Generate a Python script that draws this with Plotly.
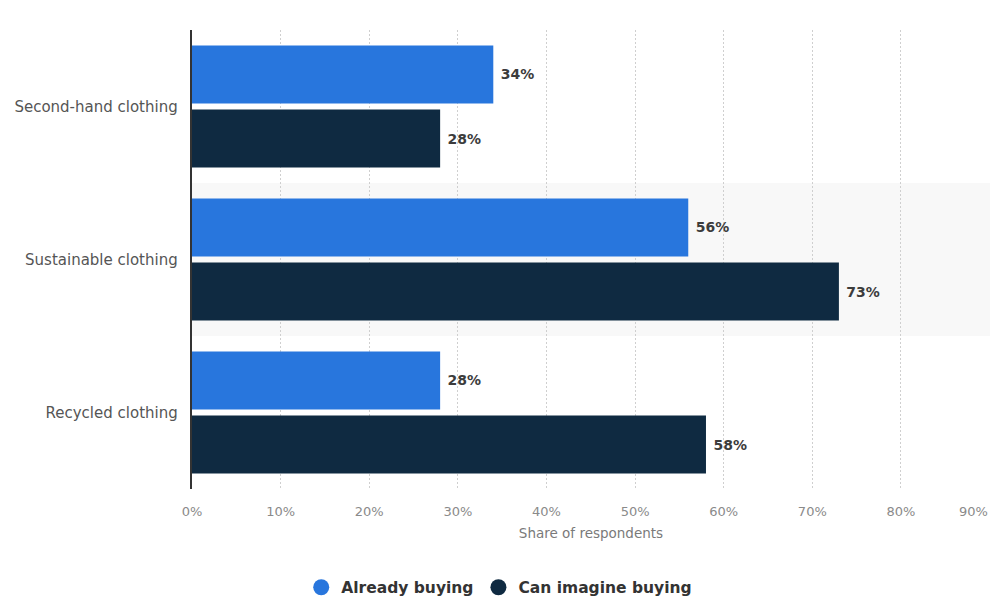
import plotly.graph_objects as go

categories = ["Second-hand clothing", "Sustainable clothing", "Recycled clothing"]
already_buying = [34, 56, 28]
can_imagine = [28, 73, 58]
tick_vals = [0, 10, 20, 30, 40, 50, 60, 70, 80, 90]
tick_text = [f"{v}%" for v in tick_vals]

BLUE = "#2876dd"
NAVY = "#0f2a41"
FONT = "DejaVu Sans"
TICKFONT = dict(family=FONT, size=13, color="#8a8a8a")

fig = go.Figure()
for name, vals, col in [("Already buying", already_buying, BLUE),
                        ("Can imagine buying", can_imagine, NAVY)]:
    fig.add_trace(go.Bar(
        y=categories, x=vals, orientation="h", name=name,
        marker=dict(color=col, line=dict(width=0)),
        text=[f"{v}%" for v in vals], textposition="outside",
        texttemplate="\u00a0<b>%{text}</b>",
        textfont=dict(family=FONT, size=14, color="#3c3c3c"),
        cliponaxis=False, showlegend=False, hoverinfo="skip",
    ))
    fig.add_trace(go.Scatter(
        x=[None], y=[None], mode="markers", name=name,
        marker=dict(symbol="circle", size=18, color=col),
    ))

# shaded middle band
fig.add_shape(type="rect", xref="paper", yref="y", x0=0, x1=1,
              y0=0.5, y1=1.5, fillcolor="#f8f8f8", line=dict(width=0), layer="below")

# last tick label drawn right-aligned so it stays inside the page
axis_labels = tick_text[:-1] + [""]
fig.add_annotation(x=tick_vals[-1], xref="x", y=0, yref="paper", text=tick_text[-1],
                   showarrow=False, xanchor="right", yanchor="middle", yshift=-22,
                   font=TICKFONT)

fig.update_layout(
    width=992, height=589,
    margin=dict(l=184, r=10, t=22, b=108, autoexpand=False),
    plot_bgcolor="white", paper_bgcolor="white",
    barmode="group", bargap=0.163, bargroupgap=0.094,
    font=dict(family=FONT),
    legend=dict(orientation="h", x=0.385, xanchor="center", y=-0.215, yanchor="middle",
                font=dict(family=FONT, size=15.5, color="#333333", weight="bold")),
    xaxis=dict(range=[0, 90.05], tickvals=tick_vals, ticktext=axis_labels, automargin=False,
               showgrid=True, gridcolor="#cfcfcf", griddash="2px,2px", gridwidth=1,
               zeroline=False, ticks="outside", ticklen=10, tickcolor="rgba(0,0,0,0)",
               tickfont=TICKFONT,
               title=dict(text="Share of respondents", standoff=10,
                          font=dict(family=FONT, size=13.5, color="#7a7a7a"))),
    yaxis=dict(autorange="reversed", showline=True, linecolor="#333333", linewidth=1.5,
               showgrid=False, ticks="", ticksuffix="  ", automargin=False,
               tickfont=dict(family=FONT, size=15, color="#555555")),
)

fig.write_html("out.html")
